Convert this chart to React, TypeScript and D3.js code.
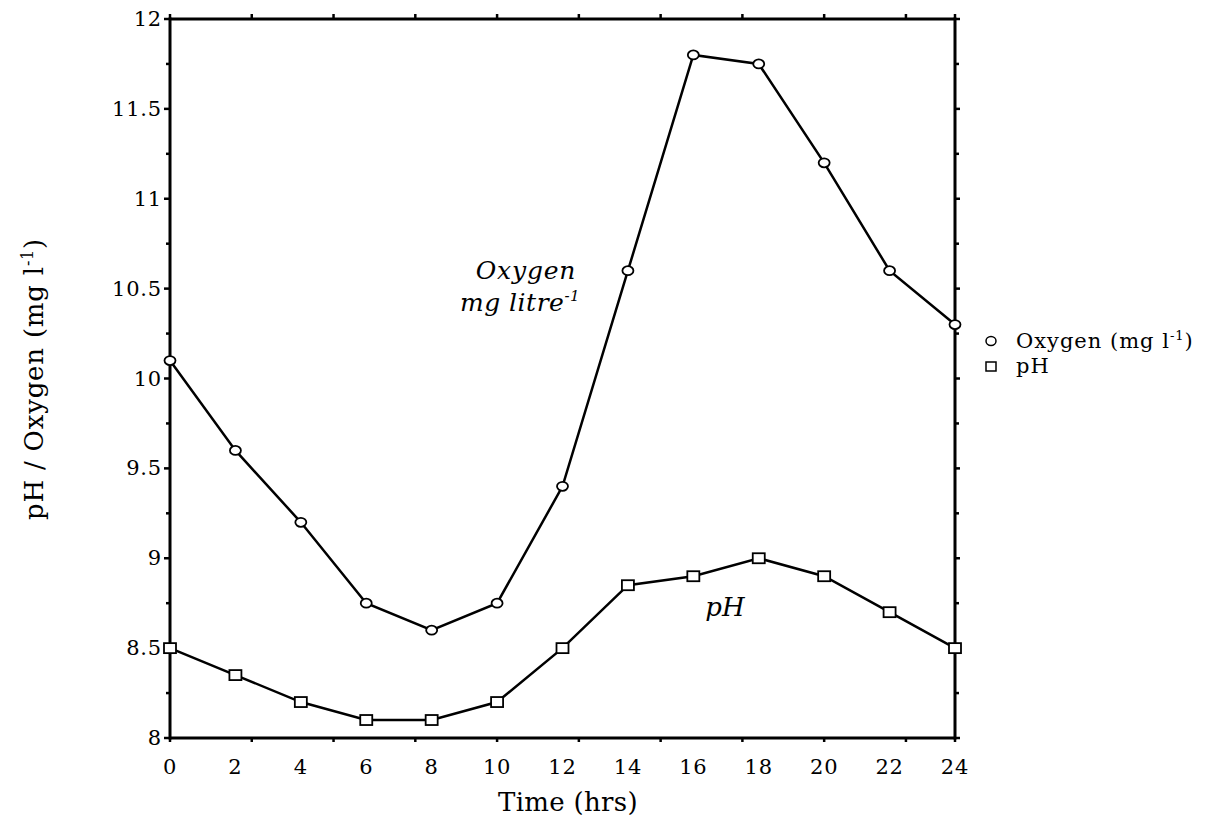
import React from "react";
import * as d3 from "d3";

const hours = [0, 2, 4, 6, 8, 10, 12, 14, 16, 18, 20, 22, 24];
const oxygen = [10.1, 9.6, 9.2, 8.75, 8.6, 8.75, 9.4, 10.6, 11.8, 11.75, 11.2, 10.6, 10.3];
const pH = [8.5, 8.35, 8.2, 8.1, 8.1, 8.2, 8.5, 8.85, 8.9, 9.0, 8.9, 8.7, 8.5];
const xTickMarks = [0, 2.5, 5, 7.5, 10, 12.5, 15, 17.5, 20, 22.5, 24];
const xTickLabels = [0, 2, 4, 6, 8, 10, 12, 14, 16, 18, 20, 22, 24];
const yMajor = [8, 8.5, 9, 9.5, 10, 10.5, 11, 11.5, 12];
const yMinor = [8.25, 8.75, 9.25, 9.75, 10.25, 10.75, 11.25, 11.75];
const yLabels = ["8", "8.5", "9", "9.5", "10", "10.5", "11", "11.5", "12"];

const W = 1221;
const H = 821;
const left = 170, right = 955, top = 19, bottom = 738;
const FONT = "'DejaVu Serif', 'Liberation Serif', serif";

export default function App() {
  const x = d3.scaleLinear().domain([0, 24]).range([left, right]);
  const y = d3.scaleLinear().domain([8, 12]).range([bottom, top]);
  const line = d3.line<number>().x((_, i) => x(hours[i])).y((v) => y(v));

  return (
    <svg width={W} height={H} style={{ position: "absolute", left: 0, top: 0, background: "#fff" }}
      fontFamily={FONT}>
      {/* frame */}
      <g stroke="#000" strokeWidth={3} fill="none">
        <line x1={left} x2={right} y1={top} y2={top} />
        <line x1={left} x2={right} y1={bottom} y2={bottom} />
        <line x1={left} x2={left} y1={top - 1.5} y2={bottom + 1.5} />
        <line x1={right} x2={right} y1={top - 1.5} y2={bottom + 1.5} />
      </g>
      <g stroke="#000" strokeWidth={2.5}>
        {xTickMarks.map((t) => (
          <g key={"xt" + t}>
            <line x1={x(t)} x2={x(t)} y1={top} y2={top - 5} />
            <line x1={x(t)} x2={x(t)} y1={bottom} y2={bottom + 4} />
          </g>
        ))}
        {yMajor.map((t) => (
          <g key={"ym" + t}>
            <line x1={left} x2={left - 6} y1={y(t)} y2={y(t)} />
            <line x1={right} x2={right + 5} y1={y(t)} y2={y(t)} />
          </g>
        ))}
        {yMinor.map((t) => (
          <g key={"yn" + t}>
            <line x1={left} x2={left - 4} y1={y(t)} y2={y(t)} />
            <line x1={right} x2={right + 4} y1={y(t)} y2={y(t)} />
          </g>
        ))}
      </g>
      {/* tick labels */}
      <g fontSize={21} fill="#000" letterSpacing={0.8}>
        {xTickLabels.map((t) => (
          <text key={"xl" + t} x={x(t)} y={774} textAnchor="middle">{t}</text>
        ))}
        {yMajor.map((t, i) => (
          <text key={"yl" + t} x={left - 8} y={y(t) + 7} textAnchor="end">{yLabels[i]}</text>
        ))}
      </g>
      {/* axis titles */}
      <text x={568} y={811} fontSize={26} textAnchor="middle" letterSpacing={0.3}>Time (hrs)</text>
      <text transform={`translate(43, ${(228 + 530) / 2}) rotate(-90)`} fontSize={26} textAnchor="middle" letterSpacing={0.8}>
        pH / Oxygen (mg l<tspan fontSize={16} dy={-10}>-1</tspan><tspan dy={10}>)</tspan>
      </text>
      {/* lines */}
      <path d={line(oxygen) || ""} fill="none" stroke="#000" strokeWidth={2.5} />
      <path d={line(pH) || ""} fill="none" stroke="#000" strokeWidth={2.5} />
      {/* markers */}
      {oxygen.map((v, i) => (
        <ellipse key={"o" + i} cx={x(hours[i])} cy={y(v)} rx={5.5} ry={4.5} fill="#fff" stroke="#000" strokeWidth={1.8} />
      ))}
      {pH.map((v, i) => (
        <rect key={"p" + i} x={x(hours[i]) - 6} y={y(v) - 5} width={12} height={10} fill="#fff" stroke="#000" strokeWidth={1.8} />
      ))}
      {/* annotations */}
      <text x={526} y={279} fontSize={25} fontStyle="italic" textAnchor="middle" letterSpacing={0.8}>Oxygen</text>
      <text x={520} y={311} fontSize={25} fontStyle="italic" textAnchor="middle" letterSpacing={0.5}>
        mg litre<tspan fontSize={15} dy={-10}>-1</tspan>
      </text>
      <text x={725} y={616} fontSize={26} fontStyle="italic" textAnchor="middle">pH</text>
      {/* legend */}
      <ellipse cx={991} cy={341} rx={5} ry={4.5} fill="#fff" stroke="#000" strokeWidth={1.5} />
      <text x={1016} y={348} fontSize={21} letterSpacing={1}>
        Oxygen (mg l<tspan fontSize={13} dy={-8}>-1</tspan><tspan dy={8}>)</tspan>
      </text>
      <rect x={986} y={362} width={10} height={9} fill="#fff" stroke="#000" strokeWidth={1.5} />
      <text x={1016} y={373} fontSize={21} letterSpacing={1}>pH</text>
    </svg>
  );
}
